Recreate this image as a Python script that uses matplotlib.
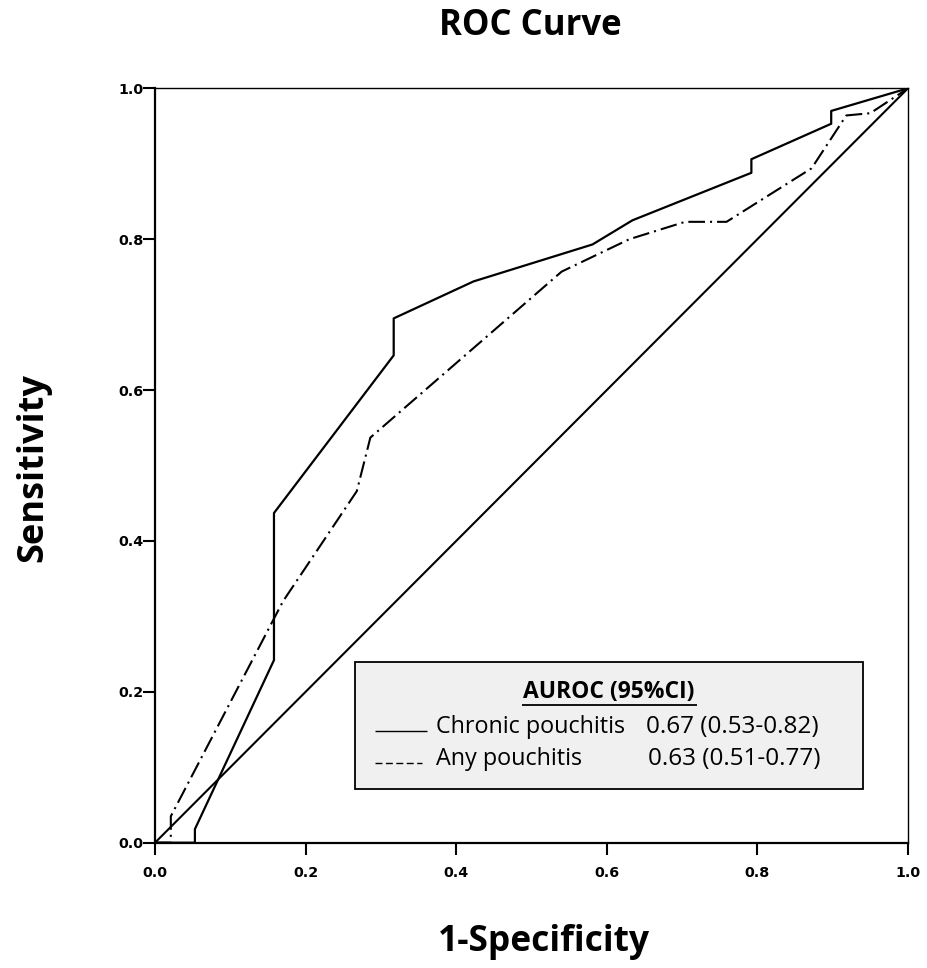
import matplotlib
matplotlib.use("Agg")
import matplotlib.pyplot as plt
from matplotlib.patches import Rectangle

plt.rcParams['lines.scale_dashes'] = False

# Data
chronic_fpr = [0, 0.053, 0.053, 0.158, 0.158, 0.317, 0.317, 0.423, 0.581, 0.634, 0.792, 0.792, 0.898, 0.898, 1.0]
chronic_tpr = [0, 0, 0.018, 0.242, 0.437, 0.646, 0.695, 0.744, 0.793, 0.825, 0.888, 0.906, 0.953, 0.970, 1.0]
any_fpr = [0, 0.021, 0.021, 0.17, 0.268, 0.286, 0.540, 0.63, 0.704, 0.759, 0.872, 0.918, 0.950, 1.0]
any_tpr = [0, 0, 0.035, 0.32, 0.466, 0.537, 0.757, 0.80, 0.823, 0.823, 0.894, 0.964, 0.967, 1.0]
ref_line = [0, 1]
ticks = [0.0, 0.2, 0.4, 0.6, 0.8, 1.0]
tick_labels = ["0.0", "0.2", "0.4", "0.6", "0.8", "1.0"]
legend_title = "AUROC (95%CI)"
legend_names = ["Chronic pouchitis", "Any pouchitis"]
legend_values = ["0.67 (0.53-0.82)", "0.63 (0.51-0.77)"]

fig = plt.figure(figsize=(9.28, 9.68), dpi=100)
ax = fig.add_axes([155/928, 1-842.7/968, 753/928, 754.4/968])

ax.plot(ref_line, ref_line, color='black', lw=1.5, solid_capstyle='butt')
ax.plot(chronic_fpr, chronic_tpr, color='black', lw=1.6)
ax.plot(any_fpr, any_tpr, color='black', lw=1.5, linestyle=(0, (12, 3.6, 1.5, 3.6)))

ax.set_xlim(0, 1)
ax.set_ylim(0, 1)
ax.set_xticks(ticks)
ax.set_yticks(ticks)
ax.set_xticklabels(tick_labels, fontfamily='DejaVu Sans', fontweight='bold', fontsize=10.3)
ax.set_yticklabels(tick_labels, fontfamily='DejaVu Sans', fontweight='bold', fontsize=10.3)
ax.tick_params(direction='out', length=8.5, width=1.5)
ax.tick_params(axis='x', pad=8.5)
ax.tick_params(axis='y', pad=0)
for s in ['left', 'bottom']:
    ax.spines[s].set_linewidth(1.6)
for s in ['top', 'right']:
    ax.spines[s].set_linewidth(1.0)

fig.text(530/928, 1-26/968, "ROC Curve", ha='center', va='center',
         fontfamily='Open Sans', fontweight='bold', fontsize=25)
fig.text(544/928, 1-942/968, "1-Specificity", ha='center', va='center',
         fontfamily='Open Sans', fontweight='bold', fontsize=25.5)
fig.text(33/928, 1-468/968, "Sensitivity", ha='center', va='center', rotation=90,
         fontfamily='Open Sans', fontweight='bold', fontsize=26)

# Legend box
x0 = (355-155)/753; x1 = (863-155)/753
y0 = (842.7-789.3)/753; y1 = (842.7-662.7)/753
ax.add_patch(Rectangle((x0, y0), x1-x0, y1-y0, facecolor='#f0f0f0',
                       edgecolor='black', lw=1.3, zorder=5))

def px(xp, yp):
    return ((xp-155)/753, (842.7-yp)/753)

ax.text(*px(609, 692), legend_title, ha='center', va='center', fontfamily='Open Sans',
        fontweight='bold', fontsize=16.5, zorder=6)
# underline
ax.plot([px(522, 0)[0], px(697, 0)[0]], [px(0, 705)[1]]*2, color='black', lw=1.3, zorder=6,
        solid_capstyle='butt')

rows_y = [727, 759]
for i, (nm, val) in enumerate(zip(legend_names, legend_values)):
    ax.text(*px(436, rows_y[i]), nm, ha='left', va='center', fontfamily='Open Sans',
            fontsize=16.8, zorder=6)
    ax.text(*px(646 + (2 if i else 0), rows_y[i]), val, ha='left', va='center',
            fontfamily='Open Sans', fontsize=17.5, zorder=6)
# sample lines
ax.plot([px(375, 0)[0], px(427, 0)[0]], [px(0, 731.5)[1]]*2, color='black', lw=1.0, zorder=6,
        solid_capstyle='butt')
ax.plot([px(375, 0)[0], px(422, 0)[0]], [px(0, 763.5)[1]]*2, color='black', lw=1.0, zorder=6,
        linestyle=(0, (5, 2.5)))

fig.savefig("out.png", dpi=100)
